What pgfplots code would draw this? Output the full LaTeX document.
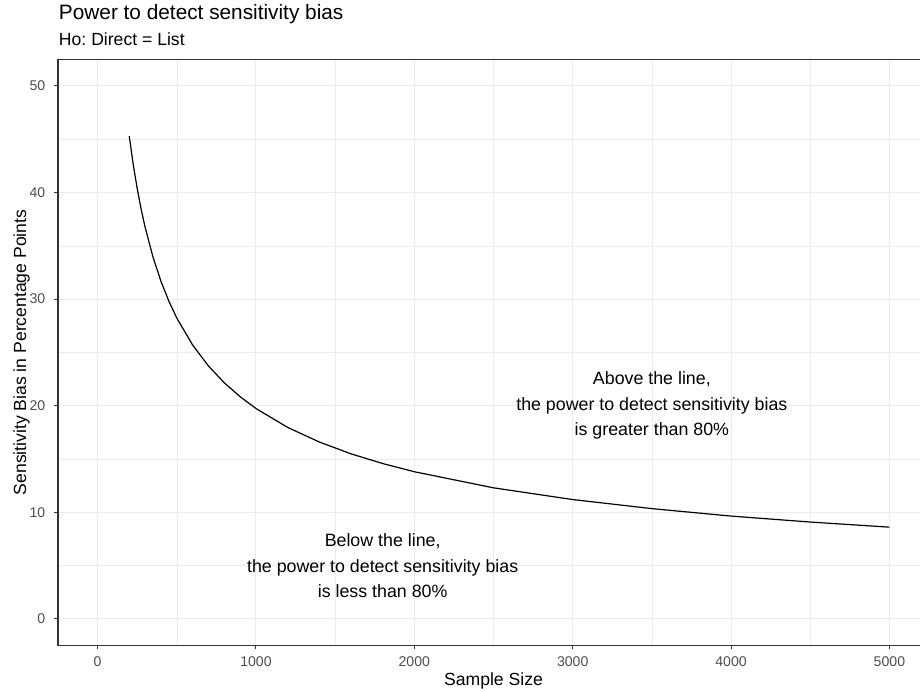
\documentclass[border=0pt]{standalone}
\usepackage{fontspec}
\setmainfont{Liberation Sans}
\usepackage{pgfplots}
\pgfplotsset{compat=1.18}
\definecolor{gridc}{HTML}{EBEBEB}
\definecolor{grey20}{HTML}{333333}
\definecolor{grey30}{HTML}{4D4D4D}
\frenchspacing
\begin{document}
\begin{tikzpicture}
\useasboundingbox (-58pt,-46.4pt) rectangle (862pt,645.6pt);
\clip (-58pt,-46.4pt) rectangle (862pt,645.6pt);
\begin{axis}[
  at={(0pt,0pt)}, anchor=south west, scale only axis,
  width=871pt, height=586.3pt,
  xmin=-250, xmax=5250, ymin=-2.5, ymax=52.5,
  xtick={0,1000,2000,3000,4000,5000}, ytick={0,10,20,30,40,50},
  xticklabels={0,1000,2000,3000,4000,5000},
  yticklabels={0,10,20,30,40,50},
  minor xtick={500,1500,2500,3500,4500},
  minor ytick={5,15,25,35,45},
  grid=both,
  major grid style={gridc, line width=1.07pt},
  minor grid style={gridc, line width=0.53pt},
  axis line style={grey20, line width=1.07pt},
  tick style={grey20, line width=1.07pt},
  major tick length=3.67pt, minor tick length=0pt,
  tick align=outside, xtick pos=bottom, ytick pos=left,
  tick label style={font=\fontsize{14.1}{15}\selectfont, text=grey30, inner sep=0pt},
  xticklabel style={anchor=north, yshift=-7.1pt},
  yticklabel style={anchor=east, xshift=-8.8pt},
]
\addplot[black, line width=1.2pt] coordinates {
(200,45.30) (225,42.63) (250,40.38) (275,38.44) (300,36.75) (350,33.94)
(400,31.68) (450,29.81) (500,28.23) (600,25.70) (700,23.73) (800,22.15)
(900,20.85) (1000,19.74) (1200,17.97) (1400,16.60) (1600,15.49)
(1800,14.58) (2000,13.81) (2500,12.30) (3000,11.20) (3500,10.35)
(4000,9.65) (4500,9.09) (5000,8.61)
};
\node[align=center, font=\fontsize{17.8}{25.5}\selectfont] at (axis cs:3500,20)
  {Above the line,\\the power to detect sensitivity bias\\is greater than 80\%};
\node[align=center, font=\fontsize{17.8}{25.5}\selectfont] at (axis cs:1800,5)
  {Below the line,\\the power to detect sensitivity bias\\is less than 80\%};
\end{axis}
\node[anchor=base west, inner sep=0pt, font=\fontsize{20.8}{22}\selectfont] at (0.8pt,625.6pt) {Power to detect sensitivity bias};
\node[anchor=base west, inner sep=0pt, font=\fontsize{17.6}{19}\selectfont] at (0.8pt,599.9pt) {Ho: Direct = List};
\node[font=\fontsize{17.6}{19}\selectfont, inner sep=0pt] at (435.5pt,-35pt) {Sample Size};
\node[rotate=90, font=\fontsize{17.6}{19}\selectfont, inner sep=0pt] at (-36.5pt,293.15pt) {Sensitivity Bias in Percentage Points};
\end{tikzpicture}
\end{document}
